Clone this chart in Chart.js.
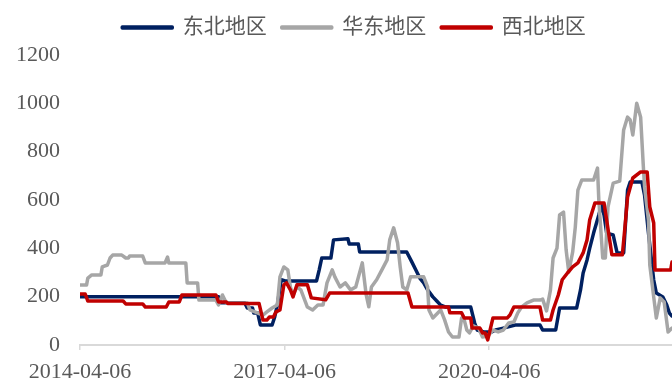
<!DOCTYPE html>
<html>
<head>
<meta charset="utf-8">
<script src="https://cdn.jsdelivr.net/npm/chart.js@4/dist/chart.umd.min.js"></script>
<style>
  html, body { margin: 0; padding: 0; background: #ffffff; }
  canvas { display: block; }
</style>
</head>
<body>
<canvas id="c" width="672" height="380"></canvas>
<script>
// x = weeks since 2014-04-06, y = value
const seriesNames = ['东北地区', '华东地区', '西北地区'];
const seriesColors = ['#002060', '#A6A6A6', '#C00000'];

const tickLabels = ['2014-04-06', '2017-04-06', '2020-04-06'];
const tickWeeks = [0, 156.57, 313.14];
const xMaxWeek = 453;
const yTicks = [0, 200, 400, 600, 800, 1000, 1200];

const northeastX = [0,106,107,126,128,132,133,136,138,147,149,151,154,157,181,183,185,192,194,205,206,213,214,250,254,257,260,263,266,270,273,276,280,299,302,304,309,315,318,324,333,352,354,364,367,380,383,385,388,390,393,397,399,401,403,408,411,416,419,421,430,432,435,439,441,446,449,451,453];
const northeastY = [200,200,175,175,153,153,132,132,83,83,116,165,270,265,265,310,360,360,435,440,418,418,385,385,343,310,277,257,228,199,182,165,157,157,91,62,54,54,62,70,83,83,62,62,153,153,228,298,352,400,463,538,580,538,463,455,381,381,641,674,674,620,463,269,215,199,165,132,120];

const eastX = [0,5,6,9,16,17,21,23,25,32,35,37,38,48,50,65,67,68,81,82,90,91,104,106,109,112,128,130,140,143,147,151,153,156,159,161,163,166,169,174,178,182,186,189,193,195,199,203,207,211,216,219,221,223,227,231,235,237,240,243,245,247,250,253,263,266,267,270,276,279,282,285,290,292,294,296,298,301,305,308,312,316,320,324,328,332,335,338,342,347,352,354,357,360,362,365,367,370,372,374,377,379,381,384,393,396,397,400,402,404,408,413,416,419,421,423,426,429,431,432,435,436,439,441,444,447,450,453];
const eastY = [248,248,277,290,290,323,331,360,372,372,360,360,368,368,339,339,364,339,339,257,257,186,186,166,207,174,174,145,124,137,153,166,282,323,311,240,207,240,228,157,145,166,166,257,311,282,240,257,228,240,340,207,158,240,270,311,352,435,485,423,324,240,228,282,282,240,145,112,145,104,54,33,33,112,104,62,50,79,70,33,37,62,54,62,91,95,133,158,174,186,186,190,141,228,360,401,538,550,393,302,385,488,641,683,683,732,600,360,360,571,670,678,890,943,931,869,1000,943,745,654,517,331,199,112,195,178,54,70];

const northwestX = [0,4,6,33,35,48,50,66,68,76,78,104,106,112,113,137,140,143,145,148,150,153,156,158,161,163,166,174,177,188,191,251,254,282,283,292,294,299,300,306,308,310,312,316,327,329,332,352,354,360,362,366,369,373,377,381,385,388,390,394,401,403,407,415,417,419,423,429,434,436,439,440,452,453];
const northwestY = [211,211,182,182,170,170,157,157,178,178,207,207,178,178,172,172,103,103,116,116,137,145,249,257,228,199,249,249,195,187,215,215,157,157,133,133,112,112,70,70,50,50,21,112,112,124,157,157,103,103,145,207,270,298,323,340,381,435,517,588,588,517,373,373,488,612,691,716,716,571,505,310,310,343];

function pts(xs, ys) { return xs.map((x, i) => ({ x: x, y: ys[i] })); }

const serifFont = "'Liberation Serif', 'Noto Sans CJK SC', serif";
const textColor = '#595959';

const fixLayout = {
  id: 'fixLayout',
  beforeLayout(chart) {
    const lg = chart.legend;
    if (lg && !lg._patched) {
      const f = lg.fit;
      lg.fit = function () { f.call(this); this.height = 53; };
      lg._patched = true;
    }
  },
  afterLayout(chart) {
    const lg = chart.legend;
    if (lg) { lg.left = 36; }
  }
};

new Chart(document.getElementById('c'), {
  type: 'line',
  data: {
    datasets: [
      { label: seriesNames[0], data: pts(northeastX, northeastY), borderColor: seriesColors[0], backgroundColor: seriesColors[0], order: 2 },
      { label: seriesNames[1], data: pts(eastX, eastY), borderColor: seriesColors[1], backgroundColor: seriesColors[1], order: 1 },
      { label: seriesNames[2], data: pts(northwestX, northwestY), borderColor: seriesColors[2], backgroundColor: seriesColors[2], order: 0 }
    ]
  },
  options: {
    responsive: false,
    devicePixelRatio: 1,
    animation: false,
    layout: { padding: { left: 0, top: 2, right: 0, bottom: 0 } },
    elements: {
      point: { radius: 0 },
      line: { tension: 0, borderWidth: 3.5, borderJoinStyle: 'round', borderCapStyle: 'round' }
    },
    plugins: {
      legend: {
        position: 'top',
        labels: {
          boxWidth: 50,
          boxHeight: 1,
          padding: 15,
          color: textColor,
          font: { family: serifFont, size: 21 },
          sort: (a, b) => a.datasetIndex - b.datasetIndex
        }
      },
      tooltip: { enabled: false }
    },
    scales: {
      x: {
        type: 'linear',
        min: 0,
        max: xMaxWeek,
        afterBuildTicks: (axis) => { axis.ticks = tickWeeks.map(v => ({ value: v })); },
        afterFit: (scale) => { scale.height = 35; },
        ticks: {
          callback: (v, i) => tickLabels[i],
          maxRotation: 0,
          autoSkip: false,
          padding: 9,
          color: textColor,
          font: { family: serifFont, size: 22 }
        },
        grid: { display: true, drawOnChartArea: false, drawTicks: true, tickLength: 5, color: '#D9D9D9', lineWidth: 1.5 },
        border: { display: true, color: '#D9D9D9', width: 2 }
      },
      y: {
        min: 0,
        max: 1200,
        afterBuildTicks: (axis) => { axis.ticks = yTicks.map(v => ({ value: v })); },
        afterFit: (scale) => { scale.width = 80; },
        ticks: {
          callback: (v) => String(v),
          padding: 20,
          color: textColor,
          font: { family: serifFont, size: 22 }
        },
        grid: { display: false, drawTicks: false },
        border: { display: false }
      }
    }
  },
  plugins: [fixLayout]
});
</script>
</body>
</html>
